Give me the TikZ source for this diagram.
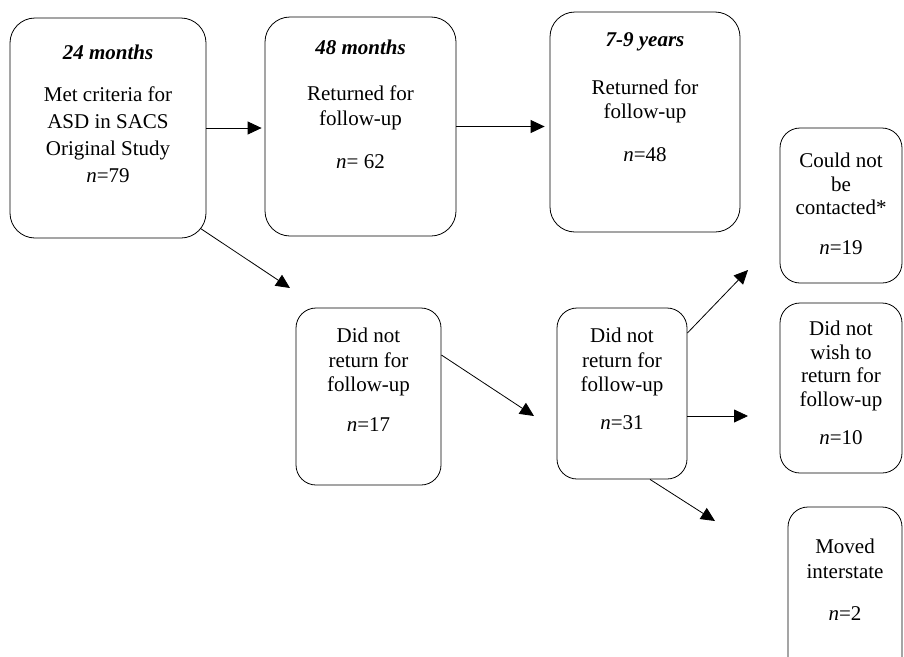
\documentclass[tikz,border=0pt]{standalone}
\usepackage{fontspec}
\setmainfont{Liberation Serif}
\usetikzlibrary{arrows.meta}

\begin{document}
\begin{tikzpicture}[x=1pt, y=-1pt, line width=0.8pt,
  bigbox/.style={draw, rounded corners=25pt, inner sep=0pt},
  smallbox/.style={draw, rounded corners=20pt, inner sep=0pt},
  txt/.style={align=center, inner sep=0pt, anchor=north, font=\fontsize{21}{24.5}\selectfont},
  arr/.style={-{Triangle[length=14pt,width=13pt]}}]
\clip (0,0) rectangle (904,656);

% top row
\node[bigbox, minimum width=196pt, minimum height=220pt] (crit24) at (108,128) {};
\node[bigbox, minimum width=191pt, minimum height=219pt] (ret48) at (360.5,126.5) {};
\node[bigbox, minimum width=190pt, minimum height=220pt] (ret79) at (645,122) {};

% drop-outs
\node[smallbox, minimum width=145pt, minimum height=177pt] (noret48) at (368.5,396.5) {};
\node[smallbox, minimum width=130pt, minimum height=171pt] (noret79) at (622,393.5) {};
\node[smallbox, minimum width=122pt, minimum height=155pt] (nocontact) at (841,205.5) {};
\node[smallbox, minimum width=122pt, minimum height=170pt] (nowish) at (841,388) {};
\node[smallbox, minimum width=114pt, minimum height=170pt] (moved) at (845,592) {};

% texts
\node[txt, font=\fontsize{21}{27}\selectfont] (crit24t) at ([yshift=-27pt]crit24.north)
  {\textbf{\textit{24 months}}\\[15pt] Met criteria for\\ ASD in SACS\\ Original Study\\ \textit{n}=79};
\node[txt] (ret48t) at ([yshift=-23pt]ret48.north)
  {\textbf{\textit{48 months}}\\[21.5pt] Returned for\\ follow-up\\[19pt] \textit{n}= 62};
\node[txt] (ret79t) at ([yshift=-21pt]ret79.north)
  {\textbf{\textit{7-9 years}}\\[23pt] Returned for\\ follow-up\\[18pt] \textit{n}=48};
\node[txt] (noret48t) at ([yshift=-20pt]noret48.north)
  {Did not\\ return for\\ follow-up\\[15.5pt] \textit{n}=17};
\node[txt] (noret79t) at ([yshift=-20pt]noret79.north)
  {Did not\\ return for\\ follow-up\\[13.5pt] \textit{n}=31};
\node[txt, font=\fontsize{21}{23.5}\selectfont] (nocontactt) at ([yshift=-25pt]nocontact.north)
  {Could not\\ be\\ contacted*\\[16pt] \textit{n}=19};
\node[txt, font=\fontsize{21}{23.5}\selectfont] (nowisht) at ([yshift=-18pt]nowish.north)
  {Did not\\ wish to\\ return for\\ follow-up\\[15pt] \textit{n}=10};
\node[txt] (movedt) at ([yshift=-32pt]moved.north)
  {Moved\\ interstate\\[17.5pt] \textit{n}=2};

% free arrow ends
\coordinate (tip1) at (290,288);
\coordinate (tip2) at (534,416);
\coordinate (tip3) at (748,270);
\coordinate (tip4) at (748,416);
\coordinate (tip5) at (715,521);

% arrows
\draw[arr] (crit24.east) -- ([xshift=-3pt]crit24.east -| ret48.west);
\draw[arr] (ret48.east) -- ([xshift=-5pt]ret48.east -| ret79.west);
\draw[arr] ([xshift=-6pt,yshift=10pt]crit24.south east) -- (tip1);
\draw[arr] ([yshift=41.5pt]noret48.east) -- (tip2);
\draw[arr] ([yshift=60.5pt]noret79.east) -- (tip3);
\draw[arr] ([yshift=-22.5pt]noret79.east) -- (tip4);
\draw[arr] ([xshift=28pt]noret79.south) -- (tip5);
\end{tikzpicture}
\end{document}
